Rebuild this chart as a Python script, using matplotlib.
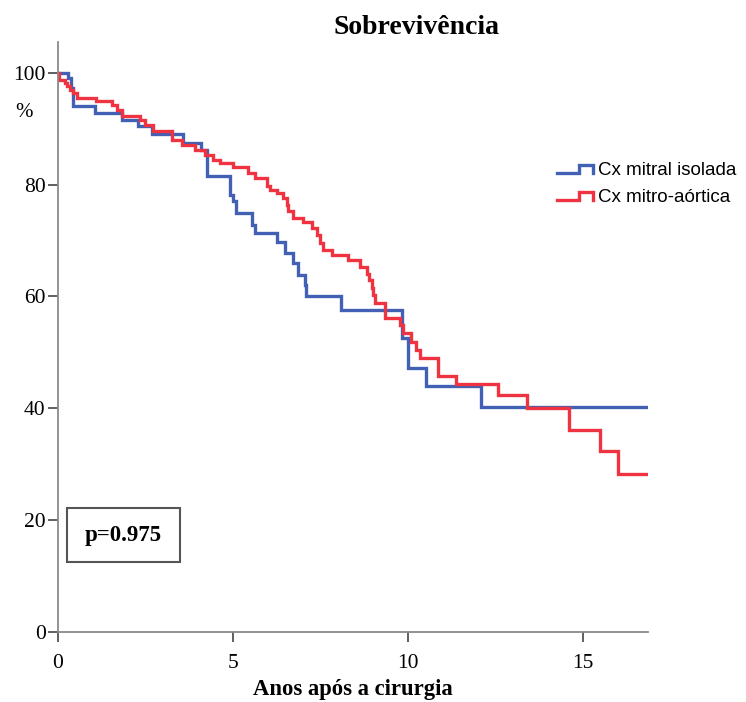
import numpy as np
import matplotlib
matplotlib.use("Agg")
import matplotlib.pyplot as plt
from matplotlib.lines import Line2D
from matplotlib.patches import Rectangle
from matplotlib.legend_handler import HandlerBase

# survival step data (years, % surviving after each drop)
mitral_t = [0, 0.30, 0.36, 0.42, 0.44, 1.06, 1.82, 2.30, 2.68, 3.58, 4.10, 4.25,
            4.91, 5.01, 5.10, 5.53, 5.63, 6.25, 6.49, 6.72, 6.87, 7.06, 7.10,
            8.10, 9.82, 10.01, 10.53, 12.10]
mitral_s = [100, 99.0, 97.3, 95.5, 94.0, 92.8, 91.6, 90.4, 89.1, 87.4, 86.2, 81.5,
            78.2, 77.0, 74.9, 72.8, 71.3, 69.8, 67.7, 66.0, 63.9, 62.1, 60.0,
            57.6, 52.5, 47.2, 44.0, 40.3]
mitral_end = 16.85

aortic_t = [0, 0.02, 0.20, 0.25, 0.34, 0.44, 0.53, 1.10, 1.53, 1.68, 1.82, 2.34,
            2.49, 2.72, 3.25, 3.53, 3.91, 4.20, 4.44, 4.63, 5.01, 5.44, 5.63,
            5.96, 6.06, 6.25, 6.44, 6.53, 6.58, 6.72, 7.01, 7.25, 7.39, 7.49,
            7.58, 7.82, 8.29, 8.63, 8.82, 8.90, 8.96, 9.01, 9.06, 9.34, 9.77,
            9.87, 10.10, 10.24, 10.34, 10.87, 11.37, 12.58, 13.39, 14.61, 15.50,
            16.01]
aortic_s = [100, 98.7, 98.1, 97.6, 97.0, 96.4, 95.5, 94.9, 94.3, 93.4, 92.2, 91.6,
            90.7, 89.5, 88.0, 87.1, 86.2, 85.3, 84.4, 83.8, 83.2, 82.0, 81.1,
            79.7, 79.1, 78.5, 77.6, 76.4, 75.2, 74.0, 73.4, 72.3, 71.0, 69.6,
            68.3, 67.4, 66.5, 65.3, 64.1, 63.0, 61.5, 60.3, 58.8, 56.1, 54.9,
            53.4, 51.9, 50.4, 49.0, 45.8, 44.3, 42.4, 40.1, 36.1, 32.4,
            28.3]
aortic_end = 16.82

labels = ["Cx mitral isolada", "Cx mitro-aórtica"]
colors = ["#4260b4", "#ef3340"]
p_text = "p=0.975"

SERIF = "Liberation Serif"
SANS = "Liberation Sans"


class StepHandler(HandlerBase):
    # small step glyph like the SPSS legend
    def create_artists(self, legend, orig_handle, xdescent, ydescent,
                       width, height, fontsize, trans):
        x0, x2 = -xdescent, -xdescent + width
        x1 = x0 + 0.62 * width
        y0 = -ydescent + 0.15 * height
        y1 = -ydescent + 0.75 * height
        ln = Line2D([x0, x1, x1, x2, x2], [y0, y0, y1, y1, y0],
                    color=orig_handle.get_color(), lw=orig_handle.get_linewidth(),
                    solid_joinstyle="miter", transform=trans)
        return [ln]


fig = plt.figure(figsize=(7.46, 7.02), dpi=100)
ax = fig.add_axes([58 / 746, 70 / 702, 590 / 746, 590 / 702])

handles = []
for t, s, end, c, lab in [(mitral_t, mitral_s, mitral_end, colors[0], labels[0]),
                          (aortic_t, aortic_s, aortic_end, colors[1], labels[1])]:
    tt = np.array(t + [end])
    ss = np.array(s + [s[-1]])
    ln, = ax.step(tt, ss, where="post", color=c, lw=2.4, label=lab,
                  solid_joinstyle="miter")
    handles.append(ln)

ax.set_xlim(0, 16.86)
ax.set_ylim(0, 105.5)
ax.set_xticks([0, 5, 10, 15])
ax.set_yticks([0, 20, 40, 60, 80, 100])
for sp in ["top", "right"]:
    ax.spines[sp].set_visible(False)
for sp in ["left", "bottom"]:
    ax.spines[sp].set_color("#8a8a8a")
    ax.spines[sp].set_linewidth(1.3)
ax.tick_params(length=7, width=1.2, color="#444444", labelsize=15.5)
ax.tick_params(axis="x", pad=9)
ax.tick_params(axis="y", pad=2)
for lbl in ax.get_xticklabels() + ax.get_yticklabels():
    lbl.set_fontfamily(SERIF)

ax.set_ylabel("%", rotation=0, fontsize=15, fontfamily=SERIF, ha="center", va="center")
ax.yaxis.set_label_coords(-0.058, 0.88)
xl = ax.set_xlabel("Anos após a cirurgia", fontsize=16.3, fontweight="bold",
                   fontfamily=SERIF)
xl.set_va("center")
ax.xaxis.set_label_coords(0.5, -0.097)

fig.text(416 / 746, 1 - 28 / 702, "Sobrevivência", ha="center", va="center",
         fontsize=20, fontweight="bold", fontfamily=SERIF)

ax.add_patch(Rectangle((0.0153, 0.1186), 0.1915, 0.0915, transform=ax.transAxes,
                       fill=False, edgecolor="#555555", lw=1.5, clip_on=False))
ax.text(0.111, 0.164, p_text, transform=ax.transAxes, ha="center", va="center",
        fontsize=16.5, fontweight="bold", fontfamily=SERIF)

leg = ax.legend(handles=handles, labels=labels, loc="upper left",
                bbox_to_anchor=(557 / 746, 1 - 162 / 702), bbox_transform=fig.transFigure,
                frameon=False, handler_map={Line2D: StepHandler()},
                handlelength=1.9, handletextpad=0.3, borderpad=0, borderaxespad=0,
                labelspacing=0.5, prop={"family": SANS, "size": 13.5})

fig.savefig("out.png", dpi=100)
